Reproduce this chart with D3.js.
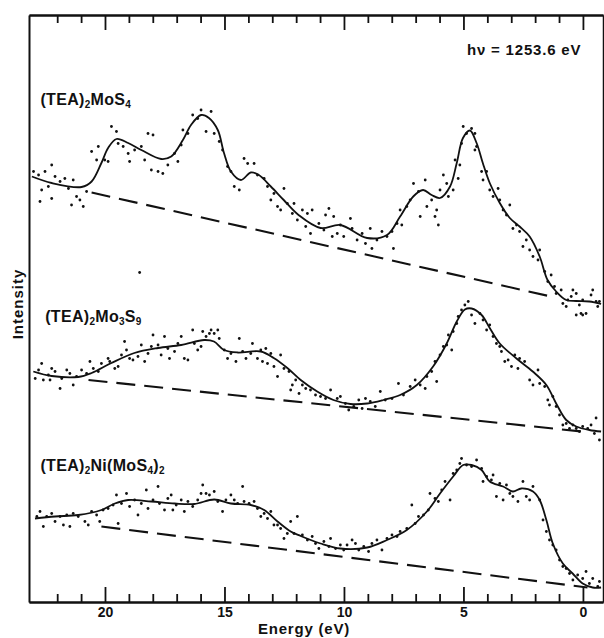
<!DOCTYPE html>
<html><head><meta charset="utf-8">
<script src="https://cdn.jsdelivr.net/npm/d3@7"></script>
<style>body{margin:0;background:#fff}svg{display:block}</style>
</head><body>
<svg id="c" width="604" height="638"></svg>
<script>
// ---------------- DATA (energy in eV, intensity in arbitrary units) ----------------
const majorTicks = [20, 15, 10, 5, 0];
const minorTicks = [22, 21, 19, 18, 17, 16, 14, 13, 12, 11, 9, 8, 7, 6, 4, 3, 2, 1];
const photonLabel = "hν = 1253.6 eV";
const xTitle = "Energy (eV)";
const yTitle = "Intensity";

// fitted (solid) curves
const fitMoS4 = [[23.06,85.3],[22.23,84.0],[20.98,83.2],[20.56,84.3],[20.15,88.0],[19.87,91.0],[19.52,92.8],[19.03,92.0],[18.48,90.6],[17.65,88.8],[17.23,89.3],[16.74,92.6],[16.40,95.6],[15.98,97.6],[15.65,97.0],[15.28,94.6],[15.02,90.0],[14.73,86.3],[14.31,84.6],[13.90,86.1],[13.56,85.6],[13.06,83.3],[12.52,80.6],[11.90,77.6],[10.98,75.0],[10.15,75.6],[9.03,73.0],[8.20,73.6],[7.65,77.3],[7.10,81.3],[6.69,82.6],[6.33,81.6],[5.98,81.0],[5.56,83.3],[5.28,88.0],[5.02,93.0],[4.73,94.5],[4.45,92.0],[4.19,88.0],[3.90,84.0],[3.48,80.0],[3.06,77.0],[2.65,75.3],[2.23,73.3],[1.81,69.3],[1.48,64.6],[1.12,62.3],[0.70,60.6],[0.28,60.4],[-0.27,60.3],[-0.76,59.8]];
const fitMo3S9 = [[23.0,46.3],[22.23,45.4],[21.12,45.2],[20.56,46.0],[19.73,48.0],[18.77,50.0],[17.78,51.0],[16.81,51.6],[15.85,52.6],[15.44,52.3],[15.02,50.6],[14.45,50.1],[13.48,50.3],[12.94,49.0],[12.37,47.0],[11.81,44.6],[11.12,42.3],[10.44,40.6],[9.73,39.8],[9.03,39.9],[8.35,40.6],[7.65,41.6],[6.95,43.6],[6.27,47.3],[5.70,51.9],[5.28,56.3],[4.94,58.7],[4.66,58.9],[4.24,57.6],[3.90,55.0],[3.48,51.9],[2.78,48.9],[2.10,46.3],[1.53,43.6],[1.12,39.9],[0.70,36.6],[0.28,35.3],[-0.27,34.6],[-0.76,34.3]];
const fitNiMoS4 = [[22.93,16.9],[22.09,17.3],[21.12,17.6],[20.15,18.6],[19.59,19.9],[19.03,20.6],[18.06,20.3],[17.09,19.9],[16.26,19.8],[15.43,20.7],[14.73,19.9],[13.90,19.6],[13.34,18.6],[12.78,16.3],[12.23,14.3],[11.81,13.4],[10.98,11.9],[10.15,10.9],[9.03,11.1],[8.20,12.6],[7.37,14.6],[6.53,18.3],[5.98,21.9],[5.43,25.3],[5.01,27.6],[4.66,27.6],[4.24,26.6],[3.90,24.3],[3.34,23.3],[2.93,22.3],[2.58,22.9],[2.09,22.3],[1.81,20.6],[1.53,16.6],[1.26,11.9],[0.84,7.9],[0.43,5.9],[0.01,3.9],[-0.41,3.1],[-0.76,3.1]];

// dashed backgrounds
const baseMoS4 = [[20.56,82.1],[1.15,61.1]];
const baseMo3S9 = [[20.69,44.6],[-0.15,34.2]];
const baseNiMoS4 = [[20.15,15.3],[-0.19,3.1]];

// measured points
const dotsMoS4 = [[22.99,86.3],[22.78,85.6],[22.65,82.6],[22.51,86.3],[22.23,87.6],[22.09,85.3],[22.37,83.3],[21.88,84.3],[21.68,84.9],[21.53,82.9],[21.33,84.6],[21.19,81.3],[21.05,80.6],[20.91,79.3],[20.77,82.3],[21.40,79.6],[22.72,80.3],[22.23,80.9],[20.56,90.3],[20.28,91.3],[20.35,88.6],[20.01,88.6],[19.87,88.3],[19.73,95.3],[19.52,94.3],[19.45,91.9],[19.24,91.3],[19.03,89.9],[18.97,88.3],[18.76,90.6],[18.48,91.3],[18.20,93.9],[17.99,93.6],[18.34,88.6],[18.06,86.6],[17.78,86.3],[17.58,85.9],[17.37,87.6],[17.09,89.9],[16.95,88.3],[16.81,91.6],[16.74,94.6],[16.53,93.9],[16.33,97.6],[16.12,96.9],[15.98,98.6],[15.77,94.3],[15.56,98.3],[15.43,93.9],[15.22,92.3],[15.08,90.6],[14.87,87.3],[14.73,86.3],[14.59,83.3],[14.38,82.6],[14.18,88.9],[14.03,87.9],[13.76,87.9],[13.62,85.6],[13.34,84.9],[13.20,83.3],[13.06,80.6],[12.93,81.9],[12.78,79.3],[12.65,78.6],[12.51,82.9],[12.37,79.9],[12.16,77.9],[11.95,76.6],[12.09,79.9],[11.74,78.6],[11.53,77.9],[11.33,78.6],[11.60,75.3],[11.40,73.9],[11.05,75.9],[10.77,77.6],[10.63,78.9],[10.43,77.3],[10.84,74.6],[10.49,73.3],[10.28,73.9],[10.15,75.6],[10.01,73.3],[9.73,76.9],[9.66,74.9],[9.45,72.6],[9.24,73.9],[9.10,71.9],[8.90,74.9],[8.83,70.9],[8.62,72.6],[8.41,74.3],[8.20,73.3],[7.99,74.3],[7.93,70.9],[7.78,75.9],[7.58,75.6],[7.65,78.6],[7.37,79.3],[7.23,80.6],[7.09,83.9],[6.88,82.3],[6.81,77.3],[6.60,84.6],[6.53,79.3],[6.33,80.6],[6.19,77.3],[6.12,78.6],[6.05,75.6],[5.98,82.6],[5.84,85.6],[5.70,83.9],[5.63,81.3],[5.43,82.6],[5.35,88.6],[5.22,84.9],[5.15,87.6],[5.08,91.9],[5.01,95.3],[4.87,93.9],[4.66,94.9],[4.52,93.9],[4.45,91.3],[4.52,90.6],[4.24,86.3],[4.18,84.6],[4.03,86.3],[3.90,82.6],[3.76,81.3],[3.55,82.9],[3.48,80.6],[3.34,78.6],[3.20,77.6],[3.06,79.6],[2.93,74.9],[2.78,75.6],[2.65,74.3],[2.51,71.3],[2.37,72.6],[2.23,70.6],[2.09,69.3],[1.88,68.6],[1.81,70.6],[1.60,66.3],[1.47,64.3],[1.33,65.6],[1.19,63.3],[1.12,61.9],[0.91,62.6],[0.84,59.9],[0.70,59.3],[0.63,60.6],[0.49,61.3],[0.42,62.6],[0.28,61.9],[0.15,59.6],[0.01,60.6],[-0.13,57.9],[-0.34,61.6],[-0.41,62.6],[-0.55,60.3],[-0.62,59.3],[-0.69,60.3],[0.08,57.9],[0.28,57.6],[0.01,57.6],[18.55,66.1]];
const dotsMo3S9 = [[22.92,44.9],[22.78,46.6],[22.65,47.9],[22.58,44.6],[22.37,45.6],[22.23,46.9],[22.09,46.3],[22.30,44.6],[21.88,42.9],[21.81,44.9],[21.60,46.6],[21.47,45.9],[21.33,43.6],[21.19,45.3],[20.98,46.6],[20.77,45.9],[20.63,48.3],[20.49,46.9],[20.28,46.3],[20.15,47.9],[19.87,48.9],[19.80,48.3],[19.59,46.9],[19.45,47.3],[19.31,49.6],[19.10,50.6],[19.18,52.3],[18.97,48.9],[18.83,48.6],[18.62,49.3],[18.48,51.6],[18.34,48.3],[18.20,49.9],[18.06,51.3],[17.99,53.6],[17.78,51.6],[17.65,49.6],[17.51,53.3],[17.37,50.9],[17.30,48.9],[17.09,50.3],[16.95,51.9],[16.81,53.3],[16.68,48.9],[16.53,48.6],[16.33,54.6],[16.26,51.9],[16.12,50.6],[15.98,51.3],[15.91,54.3],[15.77,53.3],[15.63,53.9],[15.56,54.6],[15.43,53.9],[15.28,54.6],[15.22,52.9],[15.01,50.6],[14.87,48.9],[14.73,49.9],[14.52,48.3],[14.38,52.9],[14.24,50.3],[14.10,48.9],[13.90,49.9],[13.83,51.9],[13.62,48.9],[13.48,50.6],[13.41,48.3],[13.27,50.9],[13.20,47.9],[13.06,49.9],[12.93,47.3],[12.78,45.3],[12.65,49.6],[12.51,46.9],[12.30,46.3],[12.16,43.6],[12.02,44.6],[11.88,41.9],[12.23,42.6],[11.74,43.6],[11.60,42.9],[11.40,42.6],[11.19,41.6],[10.98,41.3],[10.77,40.9],[10.56,42.6],[10.28,40.9],[10.15,41.3],[9.94,39.9],[9.80,38.6],[9.59,39.3],[9.38,40.6],[9.24,38.9],[9.10,40.9],[8.90,40.3],[8.69,39.3],[8.48,42.3],[8.27,40.6],[7.99,40.9],[7.72,43.9],[7.51,41.6],[7.23,43.3],[7.02,44.6],[6.81,43.6],[6.60,42.9],[6.53,45.3],[6.33,46.3],[6.19,48.3],[6.12,44.3],[5.98,49.6],[5.84,51.3],[5.70,51.6],[5.63,53.6],[5.49,50.6],[5.43,54.3],[5.28,55.9],[5.22,57.3],[5.08,58.6],[4.94,59.6],[4.80,60.3],[4.66,57.6],[4.52,55.9],[4.31,57.9],[4.18,56.6],[4.03,54.6],[3.90,55.6],[3.76,53.3],[3.62,51.9],[3.48,51.3],[3.41,50.3],[3.27,48.3],[3.13,48.6],[2.99,47.3],[2.85,49.6],[2.72,46.9],[2.65,48.9],[2.44,48.3],[2.23,44.6],[2.09,43.6],[1.88,46.6],[1.81,43.9],[1.60,43.3],[1.47,40.6],[1.40,39.6],[1.26,41.3],[1.12,39.3],[0.98,37.6],[0.84,35.6],[0.70,35.9],[0.56,34.9],[0.42,35.6],[0.28,34.9],[0.15,34.3],[0.01,35.3],[-0.20,34.9],[-0.34,35.6],[-0.48,33.9],[-0.55,37.0],[-0.69,32.6]];
const dotsNiMoS4 = [[22.85,17.3],[22.72,18.3],[22.58,15.3],[22.44,17.3],[22.23,17.9],[22.09,16.3],[21.88,17.3],[21.74,15.6],[21.60,17.6],[21.47,15.3],[21.33,17.9],[21.12,17.3],[20.84,16.3],[20.70,15.6],[20.56,18.3],[20.35,17.6],[20.22,16.3],[20.08,18.6],[19.87,18.9],[19.66,19.6],[19.52,21.6],[19.45,15.9],[19.31,19.9],[19.10,21.9],[18.97,19.3],[18.76,20.6],[18.62,17.6],[18.48,19.9],[18.27,22.6],[18.20,18.9],[17.99,20.6],[17.78,23.3],[17.72,19.9],[17.51,18.6],[17.37,20.9],[17.23,21.6],[17.16,18.6],[17.02,19.6],[16.81,20.6],[16.68,18.3],[16.53,20.3],[16.33,19.3],[16.12,20.6],[15.98,21.9],[15.91,23.6],[15.77,21.9],[15.63,21.6],[15.43,22.3],[15.28,20.3],[15.08,18.3],[14.94,20.6],[14.73,21.6],[14.59,20.6],[14.45,19.9],[14.24,23.3],[14.18,20.3],[13.97,19.9],[13.76,20.3],[13.62,18.9],[13.48,17.3],[13.34,17.9],[13.20,16.9],[13.06,18.3],[12.93,15.6],[12.78,15.6],[12.65,14.9],[12.51,12.9],[12.37,13.9],[12.23,16.3],[12.09,13.9],[11.95,17.3],[11.74,13.6],[11.53,12.6],[11.33,13.3],[11.19,11.9],[11.05,10.9],[10.84,12.3],[10.63,11.3],[10.56,12.9],[10.35,10.9],[10.15,11.6],[10.01,10.6],[9.87,11.6],[9.66,12.6],[9.52,11.9],[9.38,10.6],[9.17,11.3],[8.97,10.3],[8.83,11.9],[8.62,12.6],[8.41,10.6],[8.20,12.9],[7.99,13.6],[7.78,13.3],[7.65,14.3],[7.37,14.9],[7.16,19.6],[7.02,15.9],[6.88,17.3],[6.67,17.6],[6.47,18.6],[6.40,21.9],[6.19,20.9],[6.05,20.3],[5.91,22.6],[5.77,24.3],[5.56,20.6],[5.43,25.9],[5.28,26.6],[5.15,27.9],[5.08,28.9],[4.87,27.6],[4.66,27.3],[4.45,28.6],[4.24,26.9],[4.18,24.3],[4.03,25.3],[3.83,24.6],[3.76,25.6],[3.62,21.3],[3.48,23.9],[3.34,20.6],[3.20,23.6],[3.06,21.9],[2.93,21.3],[2.72,20.3],[2.51,24.3],[2.37,21.3],[2.23,20.6],[2.09,23.3],[1.81,20.6],[1.67,16.6],[1.53,14.3],[1.40,12.6],[1.26,11.6],[1.12,10.6],[0.98,8.6],[0.84,7.3],[0.70,6.9],[0.56,5.9],[0.42,4.6],[0.22,5.6],[0.01,4.9],[-0.13,6.3],[-0.27,3.9],[-0.41,4.9],[-0.62,3.3],[-0.69,4.3]];

const spectra = [
  {parts:[["(TEA)",""],["2","sub"],["MoS",""],["4","sub"]], fit:fitMoS4, dots:dotsMoS4, base:baseMoS4, lx:22.7, ly:99.6},
  {parts:[["(TEA)",""],["2","sub"],["Mo",""],["3","sub"],["S",""],["9","sub"]], fit:fitMo3S9, dots:dotsMo3S9, base:baseMo3S9, lx:22.5, ly:56.2},
  {parts:[["(TEA)",""],["2","sub"],["Ni(MoS",""],["4","sub"],[")",""],["2","sub"]], fit:fitNiMoS4, dots:dotsNiMoS4, base:baseNiMoS4, lx:22.7, ly:26.4}
];

// ---------------- CHART ----------------
const svg = d3.select("#c");
const font = "'Liberation Sans', Arial, Helvetica, sans-serif";
const ink = "#111";
const x = d3.scaleLinear().domain([23.18, -0.84]).range([29, 603]);
const y = d3.scaleLinear().domain([0.2, 117.6]).range([602, 15]);
const [y0, y1] = y.range();

function styleAxis(g){
  g.selectAll("path.domain").attr("stroke", ink).attr("stroke-width", 2);
  g.selectAll(".tick line").attr("stroke", ink).attr("stroke-width", 1.8);
}
svg.append("g").attr("transform", `translate(0,${y0})`)
  .call(d3.axisBottom(x).tickValues(minorTicks).tickSize(-8).tickSizeOuter(0).tickFormat(""))
  .call(styleAxis);
const bx = svg.append("g").attr("transform", `translate(0,${y0})`)
  .call(d3.axisBottom(x).tickValues(majorTicks).tickSize(-15).tickSizeOuter(0).tickPadding(5).tickFormat(d3.format("d")))
  .call(styleAxis);
bx.selectAll(".tick text").attr("font-family", font).attr("font-weight", "bold")
  .attr("font-size", 14).attr("fill", ink);
svg.append("g").attr("transform", `translate(0,${y1})`)
  .call(d3.axisTop(x).tickValues(minorTicks).tickSize(-8).tickSizeOuter(0).tickFormat(""))
  .call(styleAxis);
svg.append("g").attr("transform", `translate(0,${y1})`)
  .call(d3.axisTop(x).tickValues(majorTicks).tickSize(-15).tickSizeOuter(0).tickFormat(""))
  .call(styleAxis);
svg.append("g").attr("transform", `translate(${x.range()[0]},0)`)
  .call(d3.axisLeft(y).tickValues([]).tickSizeOuter(0)).call(styleAxis);
svg.append("g").attr("transform", `translate(${x.range()[1]},0)`)
  .call(d3.axisRight(y).tickValues([]).tickSizeOuter(0)).call(styleAxis)
  .selectAll("path.domain").attr("stroke-width", 1.5);

const line = d3.line().x(d => x(d[0])).y(d => y(d[1])).curve(d3.curveCatmullRom.alpha(0.5));
const straight = d3.line().x(d => x(d[0])).y(d => y(d[1]));
spectra.forEach(s => {
  svg.append("path").datum(s.base).attr("d", straight).attr("fill", "none")
    .attr("stroke", ink).attr("stroke-width", 2.1).attr("stroke-dasharray", "19,9");
  svg.append("g").selectAll("circle").data(s.dots).join("circle")
    .attr("cx", d => x(d[0])).attr("cy", d => y(d[1])).attr("r", 1.4).attr("fill", ink);
  svg.append("path").datum(s.fit).attr("d", line).attr("fill", "none")
    .attr("stroke", ink).attr("stroke-width", 1.8).attr("stroke-linejoin", "round");
  const t = svg.append("text").attr("x", x(s.lx)).attr("y", y(s.ly))
    .attr("font-family", font).attr("font-weight", "bold").attr("font-size", 16)
    .attr("letter-spacing", 0.3).attr("fill", ink);
  s.parts.forEach((p, i) => {
    const prev = i > 0 ? s.parts[i-1][1] : "";
    const ts = t.append("tspan").text(p[0]);
    if (p[1] === "sub") ts.attr("font-size", 10).attr("dy", prev === "sub" ? 0 : 3);
    else ts.attr("dy", prev === "sub" ? -3 : 0);
  });
});

svg.append("text").attr("x", 467).attr("y", 55).text(photonLabel)
  .attr("font-family", font).attr("font-weight", "bold").attr("font-size", 15)
  .attr("letter-spacing", 0.8).attr("fill", ink);
svg.append("text").attr("x", 304).attr("y", 634).attr("text-anchor", "middle").text(xTitle)
  .attr("font-family", font).attr("font-weight", "bold").attr("font-size", 15)
  .attr("letter-spacing", 0.8).attr("fill", ink);
svg.append("text").attr("transform", "translate(22.5,304) rotate(-90)").attr("text-anchor", "middle").text(yTitle)
  .attr("font-family", font).attr("font-weight", "bold").attr("font-size", 15)
  .attr("letter-spacing", 1).attr("fill", ink);
</script>
</body></html>
